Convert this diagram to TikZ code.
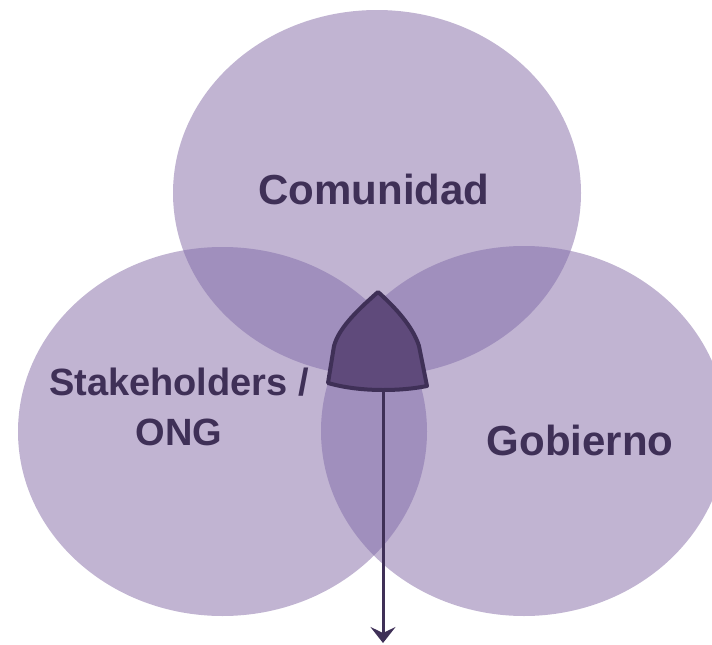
\documentclass[tikz,border=0pt]{standalone}
\usepackage{fontspec}
\setmainfont{Liberation Sans}
\usetikzlibrary{arrows.meta}
\definecolor{lav}{HTML}{C1B4D2}
\definecolor{lavdark}{HTML}{A08FBD}
\definecolor{shapefill}{HTML}{5F4A7B}
\definecolor{ink}{HTML}{3F3057}
\tikzset{
  lbl/.style={text=ink,font=\bfseries,align=center,inner sep=0pt},
  conn/.style={draw=ink,line width=3pt,-{Stealth[length=16pt,width=25pt,inset=6pt]}},
}
\begin{document}
\begin{tikzpicture}[x=1pt,y=-1pt]
\useasboundingbox (0,0) rectangle (712,645);
\clip (0,0) rectangle (712,645);
% circles
\def\topc{(377,193) ellipse [x radius=204, y radius=183]}
\def\leftc{(222.5,431.5) ellipse [x radius=204.5, y radius=184.5]}
\def\rightc{(524,431) ellipse [x radius=203, y radius=185]}
\fill[lav] \topc;
\fill[lav] \leftc;
\fill[lav] \rightc;
\begin{scope}
  \clip \topc;
  \fill[lavdark] \leftc;
  \fill[lavdark] \rightc;
\end{scope}
\begin{scope}
  \clip \leftc;
  \fill[lavdark] \rightc;
\end{scope}
% labels
\node[lbl,font=\bfseries\fontsize{42}{48}\selectfont,anchor=base] (com) at (374,204) {Comunidad};
\node[lbl,font=\bfseries\fontsize{38}{50}\selectfont,anchor=base] (stk) at (179,445) {Stakeholders /\\ONG};
\node[lbl,font=\bfseries\fontsize{42}{48}\selectfont,anchor=base] (gob) at (580,455) {Gobierno};
% central shape
\draw[ink,fill=shapefill,line width=4pt,line join=round]
  (328,383) -- (334,346) .. controls (339,327) and (360,308) .. (378,292)
  .. controls (396,308) and (413,327) .. (419,346) -- (427,386)
  .. controls (412,389) and (397,390) .. (383,390)
  .. controls (365,390) and (345,388) .. (328,383) -- cycle;
\coordinate (s) at (383,389);
\coordinate (e) at (383,643);
\draw[conn] (s) -- (e);
\end{tikzpicture}
\end{document}
